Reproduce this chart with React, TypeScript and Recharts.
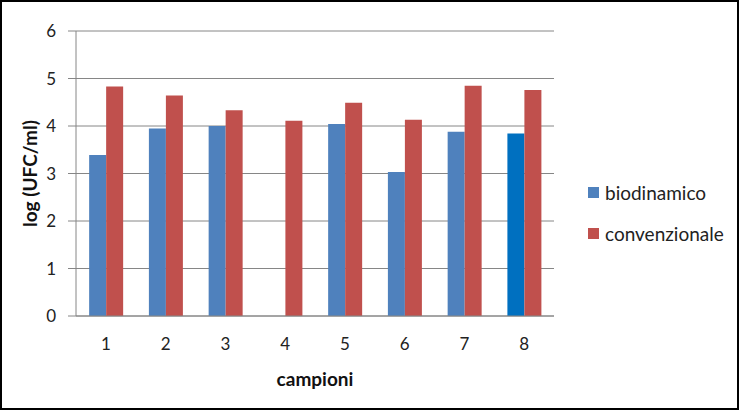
import { Bar, BarChart, CartesianGrid, Cell, Legend, XAxis, YAxis } from "recharts";

const categories = ["1", "2", "3", "4", "5", "6", "7", "8"];
const biodinamico = [3.39, 3.95, 4.0, null, 4.04, 3.03, 3.88, 3.84];
const convenzionale = [4.83, 4.64, 4.33, 4.11, 4.49, 4.13, 4.85, 4.76];
const yTicks = [0, 1, 2, 3, 4, 5, 6];

const BLUE = "#4F81BD";
const BLUE_HIGHLIGHT = "#0070C0";
const RED = "#C0504D";
const HIGHLIGHT_INDEX = 7;
const FONT = "Lato, 'Open Sans', sans-serif";

const data = categories.map((c, i) => ({
  campione: c,
  biodinamico: biodinamico[i],
  convenzionale: convenzionale[i],
}));

function LegendBox({ payload }: any) {
  return (
    <div style={{ fontFamily: FONT, fontSize: 19, color: "#222" }}>
      {(payload || []).map((entry: any) => (
        <div
          key={entry.value}
          style={{ display: "flex", alignItems: "center", height: 41 }}
        >
          <span
            style={{
              display: "inline-block",
              width: 11,
              height: 11,
              background: entry.color,
              marginRight: 6,
            }}
          />
          {entry.value}
        </div>
      ))}
    </div>
  );
}

export default function App() {
  return (
    <div style={{ position: "fixed", left: 0, top: 0, width: 739, height: 410, background: "#fff" }}>
      <BarChart
        width={739}
        height={410}
        data={data}
        margin={{ top: 31, right: 185, bottom: 0, left: 0 }}
        barCategoryGap="22%"
        barGap={0}
      >
        <CartesianGrid vertical={false} stroke="#868686" strokeWidth={1} />
        <XAxis
          dataKey="campione"
          height={94}
          stroke="#868686"
          tickLine={false}
          tickSize={0}
          tickMargin={22}
          tick={{ fill: "#222", fontSize: 17, fontFamily: FONT }}
          label={{
            value: "campioni",
            position: "insideBottom",
            offset: 24,
            style: { fontFamily: FONT, fontSize: 19, fontWeight: 700, fill: "#111" },
          }}
        />
        <YAxis
          width={76}
          domain={[0, 6]}
          ticks={yTicks}
          interval={0}
          stroke="#868686"
          tickSize={8}
          tickMargin={12}
          tick={{ fill: "#222", fontSize: 17, fontFamily: FONT }}
          label={{
            value: "log (UFC/ml)",
            angle: -90,
            position: "insideLeft",
            offset: 30,
            style: { textAnchor: "middle", fontFamily: FONT, fontSize: 19, fontWeight: 700, fill: "#111" },
          }}
        />
        <Legend
          layout="horizontal"
          verticalAlign="middle"
          align="center"
          wrapperStyle={{ left: 588, top: 172, width: 150 }}
          content={<LegendBox />}
        />
        <Bar dataKey="biodinamico" name="biodinamico" fill={BLUE} isAnimationActive={false}>
          {data.map((d, i) => (
            <Cell key={d.campione} fill={i === HIGHLIGHT_INDEX ? BLUE_HIGHLIGHT : BLUE} />
          ))}
        </Bar>
        <Bar dataKey="convenzionale" name="convenzionale" fill={RED} isAnimationActive={false} />
      </BarChart>
      <div
        style={{
          position: "absolute",
          left: 0,
          top: 0,
          width: 739,
          height: 410,
          boxSizing: "border-box",
          border: "2px solid #000",
          pointerEvents: "none",
        }}
      />
    </div>
  );
}
